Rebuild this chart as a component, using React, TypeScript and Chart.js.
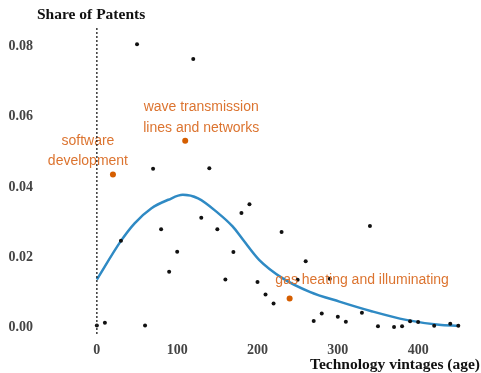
import React, { useEffect, useRef } from "react";
import { Chart, registerables } from "chart.js";

Chart.register(...registerables);

// ---- data ----
const xTicks = [0, 100, 200, 300, 400];
const yTicks = [0, 0.02, 0.04, 0.06, 0.08];

const vintages = [0, 10, 30, 50, 60, 70, 80, 90, 100, 120, 130, 140, 150, 160, 170, 180, 190, 200, 210, 220, 230, 250, 260, 270, 280, 290, 300, 310, 330, 340, 350, 370, 380, 390, 400, 420, 440, 450];
const shares = [0.0006, 0.0014, 0.0247, 0.0807, 0.0006, 0.0452, 0.028, 0.0159, 0.0216, 0.0765, 0.0313, 0.0454, 0.028, 0.0137, 0.0215, 0.0326, 0.0351, 0.013, 0.0094, 0.0069, 0.0272, 0.0136, 0.0189, 0.0019, 0.004, 0.0139, 0.0031, 0.0017, 0.0042, 0.0289, 0.0004, 0.0002, 0.0004, 0.0018, 0.0016, 0.0005, 0.0011, 0.0005];

const highlightNames = [["software", "development"], ["wave transmission", "lines and networks"], ["gas heating and illuminating"]];
const highlightVintages = [20, 110, 240];
const highlightShares = [0.0436, 0.0532, 0.0083];

const fitVintages = [0, 30, 47, 68, 89, 107, 126, 151, 169, 182, 202, 231, 265, 302, 343, 385, 426, 450];
const fitShares = [0.0137, 0.0247, 0.0297, 0.034, 0.0364, 0.0378, 0.0368, 0.0326, 0.0288, 0.025, 0.0193, 0.0141, 0.0102, 0.0074, 0.0046, 0.0022, 0.0008, 0.0005];

const yTitle = "Share of Patents";
const xTitle = "Technology vintages (age)";

// ---- style ----
const SERIF = '"Liberation Serif", "Times New Roman", serif';
const SANS = '"Liberation Sans", Arial, sans-serif';
const ORANGE = "#d55e00";
const ORANGE_TEXT = "#dc7430";
const BLUE = "#2f8ac4";
const LABEL_OFFSETS = [[-25, -33.7], [16, -33.7], [72.5, -18.5]];
const LINE_GAP = 20.7;

export default function App() {
  const ref = useRef<HTMLCanvasElement>(null);

  useEffect(() => {
    const canvas = ref.current;
    if (!canvas) return;

    const overlay = {
      id: "overlay",
      afterDatasetsDraw(chart: any) {
        const { ctx, chartArea } = chart;
        const x = chart.scales.x;
        const y = chart.scales.y;
        ctx.save();
        ctx.fillStyle = ORANGE_TEXT;
        ctx.font = `14px ${SANS}`;
        ctx.textAlign = "center";
        ctx.textBaseline = "middle";
        highlightNames.forEach((lines, i) => {
          const px = x.getPixelForValue(highlightVintages[i]);
          const py = y.getPixelForValue(highlightShares[i]);
          const off = LABEL_OFFSETS[i];
          lines.forEach((t, j) => ctx.fillText(t, px + off[0], py + off[1] + j * LINE_GAP));
        });
        const zx = x.getPixelForValue(0);
        ctx.strokeStyle = "#222";
        ctx.lineWidth = 1.8;
        ctx.lineCap = "round";
        ctx.setLineDash([0, 4]);
        ctx.beginPath();
        ctx.moveTo(zx, chartArea.top + 1);
        ctx.lineTo(zx, chartArea.bottom);
        ctx.stroke();
        ctx.setLineDash([]);
        ctx.fillStyle = "#111";
        ctx.font = `bold 15.5px ${SERIF}`;
        ctx.textAlign = "left";
        ctx.fillText(yTitle, 37, 15);
        ctx.textAlign = "right";
        ctx.fillText(xTitle, 480, 365);
        ctx.restore();
      },
    };

    const chart = new Chart(canvas, {
      type: "scatter",
      data: {
        datasets: [
          {
            label: "patents",
            data: vintages.map((v, i) => ({ x: v, y: shares[i] })),
            backgroundColor: "#111",
            borderWidth: 0,
            pointRadius: 2,
          },
          {
            label: "highlighted",
            data: highlightVintages.map((v, i) => ({ x: v, y: highlightShares[i] })),
            backgroundColor: ORANGE,
            borderWidth: 0,
            pointRadius: 3,
          },
          {
            label: "fit",
            data: fitVintages.map((v, i) => ({ x: v, y: fitShares[i] })),
            showLine: true,
            borderColor: BLUE,
            borderWidth: 2.5,
            pointRadius: 0,
            cubicInterpolationMode: "monotone",
          } as any,
        ],
      },
      options: {
        animation: false,
        responsive: false,
        layout: { padding: { top: 28, right: 3, left: 0, bottom: 0 } },
        plugins: { legend: { display: false }, tooltip: { enabled: false }, title: { display: false } },
        scales: {
          x: {
            type: "linear",
            min: -70.8,
            max: 473.3,
            grid: { display: false, drawTicks: false },
            border: { display: false },
            afterFit: (s: any) => { s.height = 38; },
            afterBuildTicks: (s: any) => { s.ticks = xTicks.map((v) => ({ value: v })); },
            ticks: {
              padding: 7,
              color: "#444",
              font: { family: SERIF, size: 14, weight: "bold" },
              callback: (v: any) => String(v),
            },
          },
          y: {
            type: "linear",
            min: -0.0021,
            max: 0.0853,
            grid: { display: false, drawTicks: false },
            border: { display: false },
            afterFit: (s: any) => { s.width = 40; },
            afterBuildTicks: (s: any) => { s.ticks = yTicks.map((v) => ({ value: v })); },
            ticks: {
              padding: 7,
              color: "#444",
              font: { family: SERIF, size: 14, weight: "bold" },
              callback: (v: any) => Number(v).toFixed(2),
            },
          },
        },
      },
      plugins: [overlay],
    });

    return () => chart.destroy();
  }, []);

  return (
    <div style={{ position: "fixed", left: 0, top: 0, width: 481, height: 373, background: "#fff" }}>
      <canvas ref={ref} width={481} height={373} />
    </div>
  );
}
